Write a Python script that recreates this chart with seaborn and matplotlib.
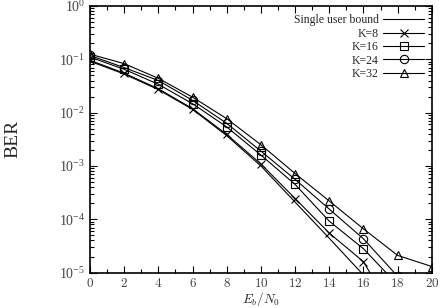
import seaborn as sns
import matplotlib.pyplot as plt
import matplotlib.ticker as mticker
import numpy as np
import pandas as pd

snr = [0, 2, 4, 6, 8, 10, 12, 14, 16, 18, 20]

bound = [0.092, 0.053, 0.027, 0.0115, 0.0037, 0.00100, 2.1e-4, 4.4e-5, 9e-6, 1.5e-6, 2e-7]
k8 = [0.096, 0.055, 0.028, 0.0119, 0.0039, 0.00109, 2.45e-4, 5.5e-5, 1.6e-5, 1.3e-6, 2e-7]
k16 = [0.110, 0.065, 0.034, 0.0147, 0.0054, 0.0016, 4.5e-4, 9.2e-5, 2.8e-5, 5.9e-6, 1e-6]
k24 = [0.118, 0.070, 0.040, 0.0170, 0.0063, 0.0019, 5.6e-4, 1.55e-4, 4.3e-5, 8.5e-6, 1e-6]
k32 = [0.125, 0.083, 0.044, 0.0195, 0.0077, 0.0025, 7.2e-4, 2.2e-4, 6.6e-5, 2.1e-5, 1.3e-5]

series = ['Single user bound', 'K=8', 'K=16', 'K=24', 'K=32']
values = [bound, k8, k16, k24, k32]
markers = [None, 'x', 's', 'o', '^']

df = pd.DataFrame({
    'snr': snr * len(series),
    'ber': np.concatenate(values),
    'curve': np.repeat(series, len(snr)),
})

sns.set_style('ticks')
plt.rcParams['font.family'] = ['Liberation Serif', 'DejaVu Serif']
plt.rcParams['mathtext.fontset'] = 'cm'

fig = plt.figure(figsize=(4.42, 3.08), dpi=100)
ax = fig.add_axes([0.2036, 0.115, 0.7734, 0.8655])

for name, mk in zip(series, markers):
    sub = df[df['curve'] == name]
    sns.lineplot(data=sub, x='snr', y='ber', ax=ax, color='black', linewidth=0.8,
                 marker=mk, markersize=6, fillstyle='none', markeredgecolor='black',
                 markeredgewidth=0.8, label=name)

ax.set_yscale('log')
ax.set_xlim(0, 20)
ax.set_ylim(1e-5, 1)
ax.xaxis.set_major_locator(mticker.MultipleLocator(2))
ax.xaxis.set_minor_locator(mticker.MultipleLocator(1))
ax.yaxis.set_major_locator(mticker.LogLocator(base=10, numticks=10))
ax.yaxis.set_minor_locator(mticker.LogLocator(base=10, subs=np.arange(2, 10), numticks=10))
ax.yaxis.set_minor_formatter(mticker.NullFormatter())
ax.xaxis.set_major_formatter(mticker.FuncFormatter(lambda v, p: f'${int(v)}$'))

ax.tick_params(which='both', direction='in', top=True, right=True, colors='black', labelcolor='#444444')
ax.tick_params(which='major', length=5, width=0.8, labelsize=10)
ax.tick_params(axis='x', labelsize=9.5, pad=3)
ax.tick_params(which='minor', length=3, width=0.8)
for s in ax.spines.values():
    s.set_linewidth(1.2)
    s.set_color('black')

ax.set_xlabel('$E_b/N_0$', fontsize=9.5, labelpad=0)
ax.set_ylabel('BER', fontsize=14, labelpad=27)

leg = ax.legend(loc='upper right', frameon=False, markerfirst=False, fontsize=8.5,
                handlelength=3.4, borderaxespad=0.3, labelspacing=0.12, handletextpad=0.4)

fig.savefig('out.png', dpi=100)
